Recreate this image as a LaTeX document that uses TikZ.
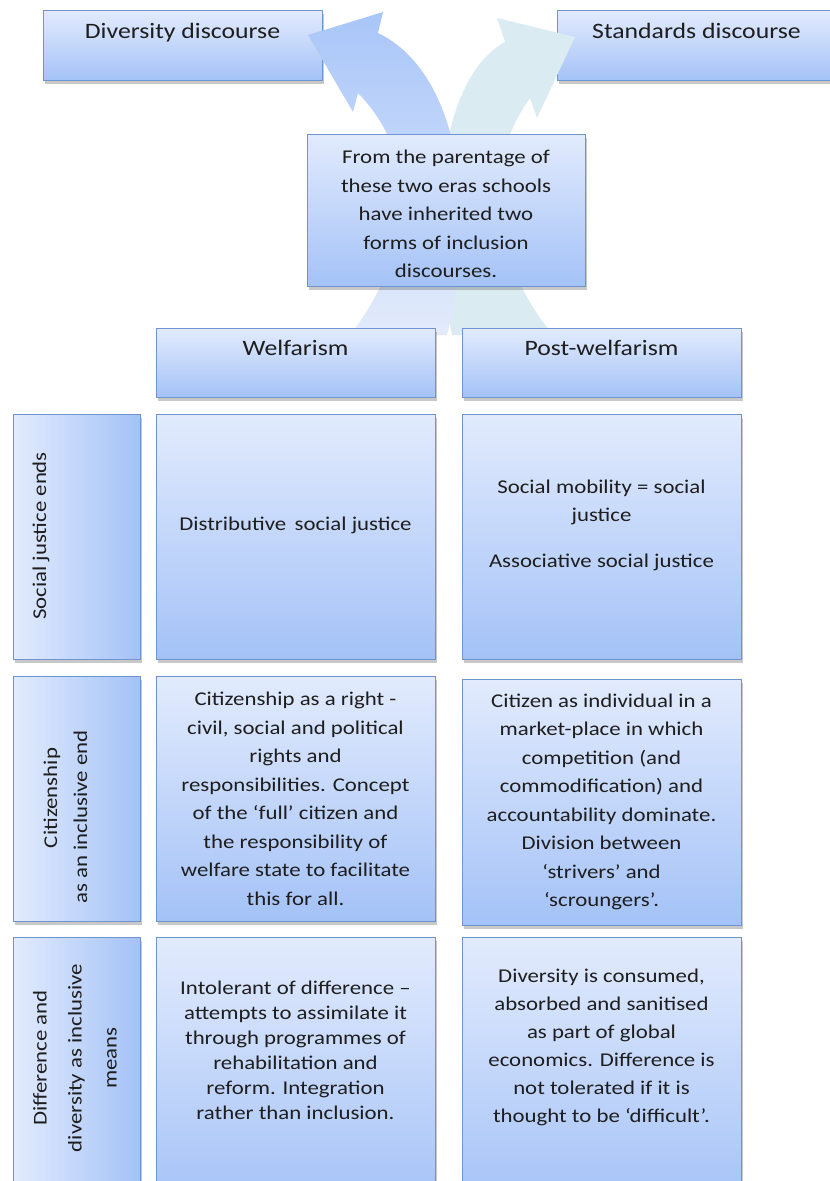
\documentclass[tikz,border=0pt]{standalone}
\usepackage{fontspec}
\setmainfont{Carlito}[FakeStretch=1.17]
\usetikzlibrary{shadows}
\definecolor{boxtop}{HTML}{E2EBFD}
\definecolor{boxbot}{HTML}{A4C2F7}
\definecolor{boxline}{HTML}{7094CE}
\definecolor{arrblueA}{HTML}{A9C6F9}
\definecolor{arrblueM}{HTML}{D4E1FB}
\definecolor{arrblueB}{HTML}{E3EBFB}
\definecolor{arrteal}{HTML}{DAECF2}
\definecolor{ink}{HTML}{1E1E1E}
\tikzset{
  card/.style={draw=boxline, line width=1.2pt, top color=boxtop, bottom color=boxbot,
    drop shadow={shadow xshift=1.5pt, shadow yshift=-3pt, opacity=0.3, fill=black!70},
    inner sep=0pt, anchor=north west},
  sidecard/.style={card, left color=boxtop, right color=boxbot},
  headtxt/.style={font=\fontsize{22}{26}\selectfont, text=ink, align=center, inner sep=0pt},
  bodytxt/.style={font=\fontsize{19.5}{28.5}\selectfont, text=ink, align=center, inner sep=0pt},
}
\begin{document}
\begin{tikzpicture}[x=1pt, y=-1pt]
\clip (0,0) rectangle (830,1181);
\fill[white] (0,0) rectangle (830,1181);

% top boxes
\node[card, minimum width=279pt, minimum height=70pt] (div) at (43,10) {};
\node[card, minimum width=279pt, minimum height=70pt] (std) at (557,10) {};
\node[headtxt, anchor=base] (divT) at (182.5,38) {Diversity discourse};
\node[headtxt, anchor=base] (stdT) at (696.5,38) {Standards discourse};

% curved arrows (over the top boxes, under the others)
\fill[arrteal] (452,335) .. controls (425,200) and (445,75) .. (505,42) -- (497,18) -- (575,37) -- (537,118) -- (530,98) .. controls (478,170) and (495,265) .. (553,335) -- cycle;
\shade[top color=arrblueA, middle color=arrblueM, bottom color=arrblueB] (350,335) .. controls (405,265) and (428,165) .. (358,93) -- (353,112) -- (308,35) -- (383,12) -- (378,33) .. controls (455,70) and (480,200) .. (447,335) -- cycle;

\node[card, minimum width=278pt, minimum height=152pt] (mid) at (307,134) {};
\node[bodytxt] (midT) at (446,214) {From the parentage of\\these two eras schools\\have inherited two\\forms of inclusion\\discourses.};

% column headers
\node[card, minimum width=279pt, minimum height=69pt] (welf) at (156,328) {};
\node[card, minimum width=279pt, minimum height=69pt] (post) at (462,328) {};
\node[headtxt, anchor=base] (welfT) at (295.5,355) {Welfarism};
\node[headtxt, anchor=base] (postT) at (601.5,355) {Post-welfarism};

% side labels
\node[sidecard, minimum width=127pt, minimum height=245pt] (s1) at (13,414) {};
\node[sidecard, minimum width=127pt, minimum height=245pt] (s2) at (13,676) {};
\node[sidecard, minimum width=127pt, minimum height=270pt] (s3) at (13,937) {};
\node[bodytxt, rotate=90] (s1T) at (41,536) {Social justice ends};
\node[bodytxt, rotate=90, font=\fontsize{19.5}{30}\selectfont] (s2T) at (65.5,817) {\hspace*{38pt}Citizenship\\as an inclusive end};
\node[bodytxt, rotate=90, font=\fontsize{19.5}{35}\selectfont] (s3T) at (75,1058) {Difference and\\diversity as inclusive\\means};

% welfarism column
\node[card, minimum width=279pt, minimum height=245pt] (w1) at (156,414) {};
\node[card, minimum width=279pt, minimum height=245pt] (w2) at (156,676) {};
\node[card, minimum width=279pt, minimum height=270pt] (w3) at (156,937) {};
\node[bodytxt, anchor=base] (w1T) at (295.5,530) {Distributive\, social justice};
\node[bodytxt] (w2T) at (295.5,799) {Citizenship as a right -\\civil, social and political\\rights and\\responsibilities. Concept\\of the ‘full’ citizen and\\the responsibility of\\welfare state to facilitate\\this for all.};
\node[bodytxt, font=\fontsize{19.5}{25}\selectfont] (w3T) at (295.5,1050) {Intolerant of difference –\\attempts to assimilate it\\through programmes of\\rehabilitation and\\reform. Integration\\rather than inclusion.};

% post-welfarism column
\node[card, minimum width=279pt, minimum height=245pt] (p1) at (462,414) {};
\node[card, minimum width=279pt, minimum height=246pt] (p2) at (462,679) {};
\node[card, minimum width=279pt, minimum height=270pt] (p3) at (462,937) {};
\node[bodytxt] (p1T) at (601.5,525) {Social mobility = social\\justice\\[17pt]Associative social justice};
\node[bodytxt] (p2T) at (601.5,802) {Citizen as individual in a\\market-place in which\\competition (and\\commodification) and\\accountability dominate.\\Division between\\‘strivers’ and\\‘scroungers’.};
\node[bodytxt, font=\fontsize{19.5}{28}\selectfont] (p3T) at (601.5,1047) {Diversity is consumed,\\absorbed and sanitised\\as part of global\\economics. Difference is\\not tolerated if it is\\thought to be ‘difficult’.};
\end{tikzpicture}
\end{document}
